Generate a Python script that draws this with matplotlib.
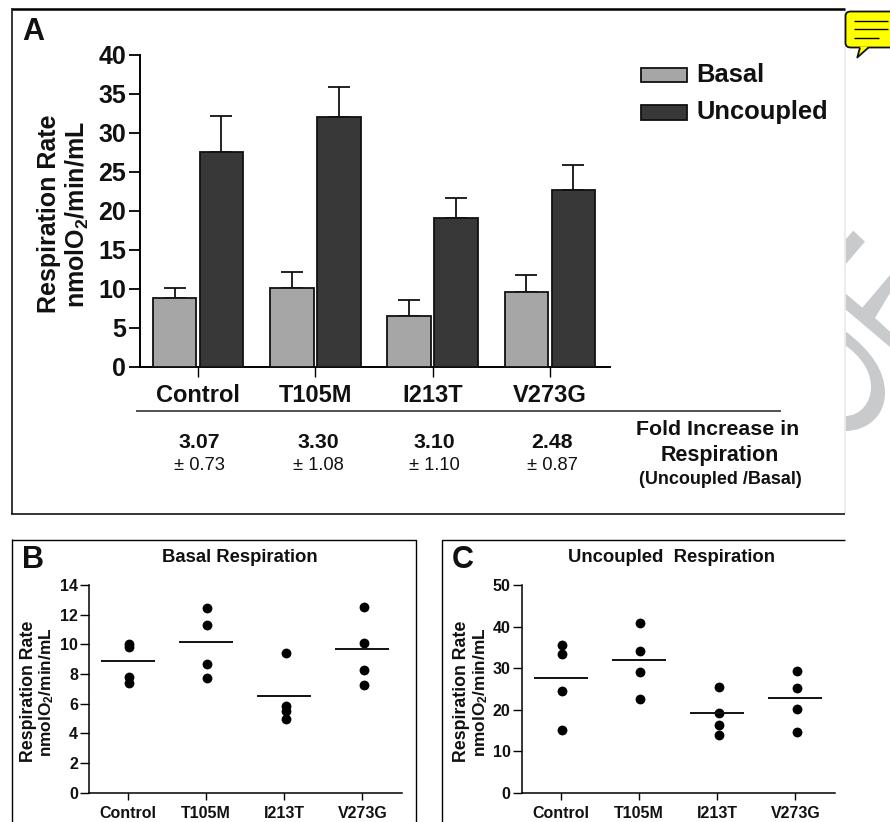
import matplotlib
matplotlib.use("Agg")
import matplotlib.pyplot as plt
from matplotlib.patches import Polygon, Rectangle, FancyBboxPatch, PathPatch
from matplotlib.path import Path
from matplotlib.lines import Line2D

plt.rcParams['font.family'] = ['Liberation Sans', 'DejaVu Sans']
plt.rcParams['mathtext.fontset'] = 'custom'
plt.rcParams['mathtext.bf'] = 'Liberation Sans:bold'
plt.rcParams['mathtext.rm'] = 'Liberation Sans'
plt.rcParams['mathtext.default'] = 'bf'

W, H = 890, 822
categories = ['Control', 'T105M', 'I213T', 'V273G']
basal_mean = [8.8, 10.1, 6.5, 9.6]
uncoupled_mean = [27.6, 32.0, 19.1, 22.7]
basal_err_top = [10.1, 12.2, 8.5, 11.8]
uncoupled_err_top = [32.2, 35.9, 21.6, 25.9]
fold_increase = ['3.07', '3.30', '3.10', '2.48']
fold_sd = ['± 0.73', '± 1.08', '± 1.10', '± 0.87']
basal_points = [[10.0, 9.8, 7.8, 7.4], [12.45, 11.3, 8.7, 7.7],
                [9.45, 5.85, 5.5, 5.0], [12.5, 10.1, 8.3, 7.25]]
basal_lines = [8.9, 10.15, 6.55, 9.7]
uncoupled_points = [[35.5, 33.4, 24.5, 15.2], [40.85, 34.0, 29.1, 22.6],
                    [25.5, 19.1, 16.2, 14.0], [29.3, 25.3, 20.1, 14.5]]
uncoupled_lines = [27.6, 32.0, 19.1, 22.7]

fig = plt.figure(figsize=(W / 100, H / 100), dpi=100, facecolor='white')

def fx(x): return x / W
def fy(y): return 1 - y / H

def add_axes_px(x0, x1, ytop, ybot):
    ax = fig.add_axes([fx(x0), fy(ybot), (x1 - x0) / W, (ybot - ytop) / H])
    ax.patch.set_alpha(0)
    ax.spines['top'].set_visible(False)
    ax.spines['right'].set_visible(False)
    return ax

def fline(xs, ys, color='black', lw=1.0, z=5):
    fig.add_artist(Line2D([fx(v) for v in xs], [fy(v) for v in ys], color=color,
                          lw=lw, zorder=z, solid_capstyle='butt'))

def ftext(x, y, s, **kw):
    kw.setdefault('ha', 'center')
    kw.setdefault('va', 'center')
    kw.setdefault('color', '#111111')
    fig.text(fx(x), fy(y), s, **kw)

# Watermark fragments
wm = '#c9cacc'
for pts in [[(845, 240), (853.3, 230.7), (865, 241.7), (845, 265)],
            [(845, 293), (862.3, 307.7), (890, 275), (890, 293), (875, 318), (890, 331.7),
             (890, 347), (845, 309)]]:
    fig.add_artist(Polygon([(fx(a), fy(b)) for a, b in pts], closed=True, fc=wm, ec='none', zorder=0))
curve = [(845, 331), (872, 351), (885, 372), (885, 393), (885, 415), (868, 431), (845, 431),
         (845, 416), (860, 416), (871, 403), (871, 387), (871, 370), (860, 356), (845, 345), (845, 331)]
codes = [Path.MOVETO] + [Path.CURVE4] * 6 + [Path.LINETO] + [Path.CURVE4] * 6 + [Path.CLOSEPOLY]
fig.add_artist(PathPatch(Path([(fx(a), fy(b)) for a, b in curve], codes), fc=wm, ec='none', zorder=0,
                         transform=fig.transFigure))
fline([844.5, 844.5], [10, 513], color='#ececec', lw=1.3, z=1)

# Panel frames
fline([11.5, 845], [9, 9], lw=1.8)
fline([11.5, 11.5], [8, 514], lw=1.1)
fline([11, 845], [513.5, 513.5], lw=1.1)
fline([11.5, 415.5, 415.5], [539.5, 539.5, 822], lw=1.0)
fline([11.5, 11.5], [539, 822], lw=1.0)
fline([845, 441.5, 441.5], [539.5, 539.5, 822], lw=1.0)

# Panel A
axA = add_axes_px(140, 610, 55, 366.7)
axA.set_xlim((140 - 198) / 117.3, (610 - 198) / 117.3)
axA.set_ylim(0, 40)
w = 0.372
off = 0.2
xpos = list(range(4))
axA.bar([i - off for i in xpos], basal_mean, w, color='#a6a6a6', ec='#111111', lw=1.3, zorder=3, clip_on=False)
axA.bar([i + off for i in xpos], uncoupled_mean, w, color='#383838', ec='#111111', lw=1.3, zorder=3, clip_on=False)
for i in xpos:
    axA.errorbar(i - off, basal_mean[i], yerr=[[0], [basal_err_top[i] - basal_mean[i]]], color='#111111',
                 lw=1.3, capsize=8.2, capthick=1.3, zorder=2)
    axA.errorbar(i + off, uncoupled_mean[i], yerr=[[0], [uncoupled_err_top[i] - uncoupled_mean[i]]], color='#111111',
                 lw=1.3, capsize=8.2, capthick=1.3, zorder=2)
axA.set_xticks(xpos)
axA.set_xticklabels(categories, fontsize=17, fontweight='bold', color='#111111')
axA.set_yticks(range(0, 41, 5))
axA.set_yticklabels(range(0, 41, 5), fontsize=18, fontweight='bold', color='#111111')
axA.tick_params(axis='y', length=8, width=1.3, pad=2)
axA.tick_params(axis='x', length=7, width=1.0, pad=5.5)
for s in ['left', 'bottom']:
    axA.spines[s].set_linewidth(1.4)
ftext(49, 214, 'Respiration Rate', rotation=90, fontsize=18, fontweight='bold')
ftext(77, 215, r'nmolO$_{2}$/min/mL', rotation=90, fontsize=18, fontweight='bold')
ftext(33, 31.5, 'A', fontsize=22, fontweight='bold')

# Legend of A
for y0, y1, col in [(68.5, 82.5, '#a6a6a6'), (105.5, 120, '#383838')]:
    fig.add_artist(Rectangle((fx(640.5), fy(y1)), 46.5 / W, (y1 - y0) / H, fc=col, ec='#111111', lw=1.3, zorder=4))
ftext(696, 75.5, 'Basal', ha='left', fontsize=18.4, fontweight='bold')
ftext(696, 112.5, 'Uncoupled', ha='left', fontsize=18.4, fontweight='bold')

# Table under A
fline([136, 781], [411.5, 411.5], color='#222222', lw=1.1)
for i in xpos:
    cx = [199, 318, 434, 552][i]
    ftext(cx, 442, fold_increase[i], fontsize=15.3, fontweight='bold')
    ftext(cx, 465, fold_sd[i], fontsize=13.2)
ftext(717.5, 429, 'Fold Increase in', fontsize=15.4, fontweight='bold')
ftext(720, 455, 'Respiration', fontsize=15.5, fontweight='bold')
ftext(720, 480, '(Uncoupled /Basal)', fontsize=13, fontweight='bold')

def dot_panel(x0, x1, tick0, ymax, step, pts, means, label1x, label2x, title, titlex, letter, letterx):
    ax = add_axes_px(x0, x1, 585, 792.7)
    sp = 78.2
    ax.set_xlim((x0 - tick0) / sp, (x1 - tick0) / sp)
    ax.set_ylim(0, ymax)
    for i in range(4):
        ax.scatter([i + 0.02] * 4, pts[i], s=50, color='black', zorder=3, lw=0)
        ax.plot([i - 0.345, i + 0.345], [means[i], means[i]], color='#111111', lw=1.4, zorder=4,
                solid_capstyle='butt')
    ax.set_xticks(range(4))
    ax.set_xticklabels(categories, fontsize=11.5, fontweight='bold', color='#111111')
    ax.set_yticks(range(0, ymax + 1, step))
    ax.set_yticklabels(range(0, ymax + 1, step), fontsize=11.5, fontweight='bold', color='#111111')
    ax.tick_params(axis='y', length=6.5, width=1.0, pad=1.5)
    ax.tick_params(axis='x', length=5, width=1.0, pad=4.5)
    for s in ['left', 'bottom']:
        ax.spines[s].set_linewidth(1.1)
    ftext(label1x, 691.5, 'Respiration Rate', rotation=90, fontsize=12.8, fontweight='bold')
    ftext(label2x, 692, r'nmolO$_{2}$/min/mL', rotation=90, fontsize=12.4, fontweight='bold')
    ftext(titlex, 557.5, title, fontsize=13.3, fontweight='bold')
    ftext(letterx, 560, letter, fontsize=22, fontweight='bold')

dot_panel(89, 402, 127.7, 14, 2, basal_points, basal_lines, 28.5, 47, 'Basal Respiration', 239.5, 'B', 33)
dot_panel(521.7, 835, 560.7, 50, 10, uncoupled_points, uncoupled_lines, 462, 481, 'Uncoupled  Respiration', 671, 'C', 463)

# Note icon (right edge runs off the picture)
note = FancyBboxPatch((fx(845.5), fy(47.5)), 55 / W, 36 / H, boxstyle='round,pad=0,rounding_size=0.006',
                      transform=fig.transFigure, fc='#ffff00', ec='#111111', lw=1.3, zorder=6,
                      mutation_aspect=H / W)
fig.add_artist(note)
fig.add_artist(Polygon([(fx(860), fy(46.5)), (fx(857.3), fy(57.5)), (fx(868.5), fy(46.5))], closed=True,
                       fc='#ffff00', ec='none', zorder=7))
fline([860, 857.3, 868.5], [47.5, 57.5, 47.5], color='#111111', lw=1.3, z=7)
for y, x1 in [(20.7, 888), (29.3, 888), (37.7, 879)]:
    fline([854, x1], [y, y], lw=1.0, z=8)

fig.savefig('out.png', dpi=100)
